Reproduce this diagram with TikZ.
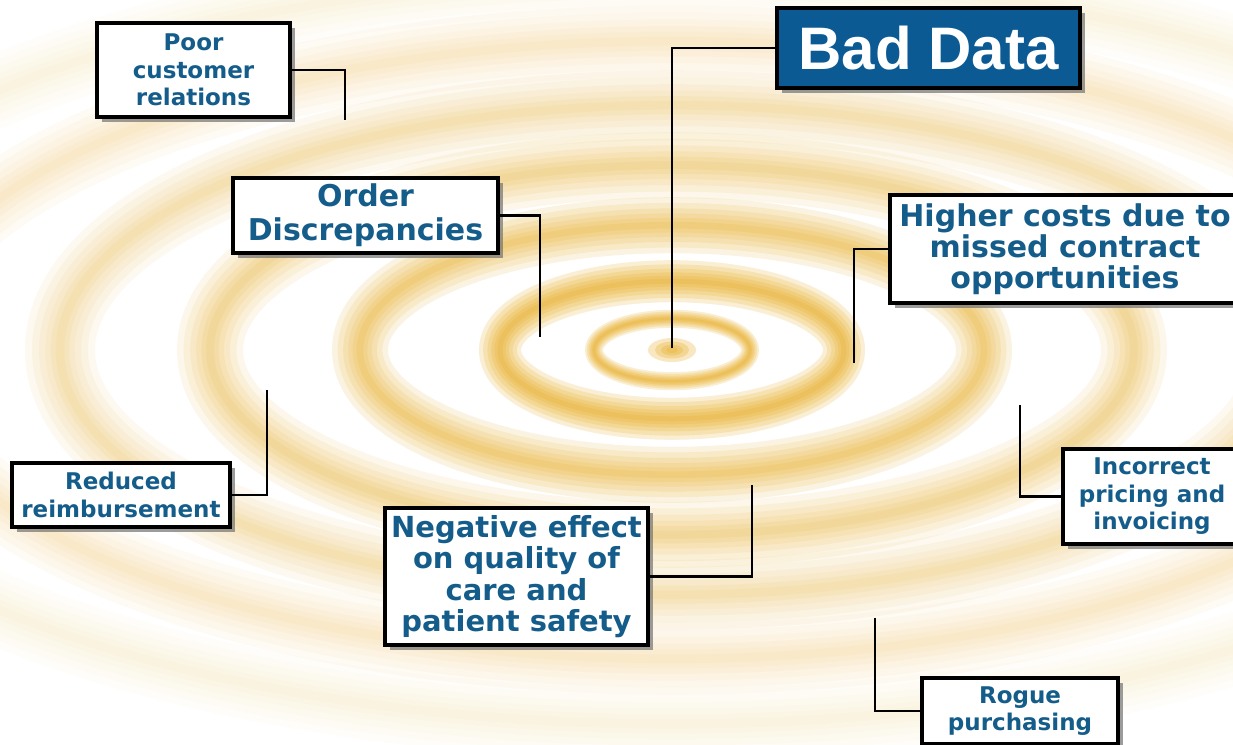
\documentclass[tikz,border=0pt]{standalone}
\usepackage{fontspec}
\setmainfont{DejaVu Sans}
\newfontfamily\arialf{Liberation Sans}
\usetikzlibrary{shadows}
\definecolor{txtblue}{RGB}{20,92,138}
\definecolor{badblue}{RGB}{12,90,148}
\definecolor{ringc}{RGB}{232,172,34}
\tikzset{
  lbl/.style={draw=black, line width=3.5pt, fill=white, text=txtblue, align=center, inner sep=0pt,
    font=\bfseries\fontsize{23}{27.5}\selectfont,
    drop shadow={shadow xshift=5pt, shadow yshift=-5pt, fill=black!55, opacity=0.7}},
  biglbl/.style={lbl, font=\bfseries\fontsize{30}{31}\selectfont},
  conn/.style={draw=black, line width=2.6pt},
}
\begin{document}
\begin{tikzpicture}[x=1pt,y=-1pt]
\useasboundingbox (0,0) rectangle (1233,744);
\fill[white] (0,0) rectangle (1233,744);
\begin{scope}
\clip (0,0) rectangle (1233,744);
% ripples
\foreach \rx/\op/\w in {78/0.85/18, 172/0.8/42, 312/0.55/56, 462/0.4/66, 612/0.28/70, 772/0.18/72, 935/0.1/72}{
  \pgfmathsetmacro\ry{0.4*\rx}
  \pgfmathsetmacro\oo{\op*0.24}
  \foreach \f in {1,0.8,0.6,0.42,0.26,0.12}{
    \pgfmathsetmacro\lw{\f*\w}
    \draw[ringc, line width=\lw pt, opacity=\oo] (672,350) ellipse [x radius=\rx pt, y radius=\ry pt];
  }
}
\foreach \r in {24,17,11,6}{
  \fill[ringc, opacity=0.28] (672,350) ellipse [x radius=\r pt, y radius=0.5*\r pt];
}

% centre and free connector ends
\coordinate (ctr) at (672,348);
\coordinate (e1) at (345,120);
\coordinate (e3) at (540,337);
\coordinate (e4) at (854,363);
\coordinate (e5) at (267,390);
\coordinate (e6) at (752,485);
\coordinate (e7) at (1020,405);
\coordinate (e8) at (875,618);

% boxes
\node[lbl, minimum width=193pt, minimum height=94pt] (poor) at (193.5,70) {Poor\\customer\\relations};
\node[lbl, fill=badblue, text=white, minimum width=303pt, minimum height=80pt,
      font=\arialf\bfseries\fontsize{60}{60}\selectfont] (bad) at (928.5,48) {Bad Data};
\node[biglbl, minimum width=265pt, minimum height=75pt, font=\bfseries\fontsize{30}{34}\selectfont] (order) at (365.5,215.5) {Order\\Discrepancies};
\node[biglbl, minimum width=350pt, minimum height=108pt] (higher) at (1065,249) {Higher costs due to\\missed contract\\opportunities};
\node[lbl, minimum width=218pt, minimum height=64pt] (reduced) at (121,495) {Reduced\\reimbursement};
\node[biglbl, minimum width=263pt, minimum height=137pt, font=\bfseries\fontsize{29}{31.5}\selectfont] (neg) at (516.5,576.5) {Negative effect\\on quality of\\care and\\patient safety};
\node[lbl, minimum width=178pt, minimum height=95pt] (inc) at (1152,496.5) {Incorrect\\pricing and\\invoicing};
\node[lbl, minimum width=196pt, minimum height=66pt] (rogue) at (1020,711) {Rogue\\purchasing};

% connectors
\draw[conn] (poor.east) -| (e1);
\draw[conn] (bad.west) -| (ctr);
\draw[conn] (order.east) -| (e3);
\draw[conn] (higher.west) -| (e4);
\draw[conn] (reduced.east) -| (e5);
\draw[conn] (neg.east) -| (e6);
\draw[conn] (inc.west) -| (e7);
\draw[conn] (rogue.west) -| (e8);
\end{scope}
\end{tikzpicture}
\end{document}
